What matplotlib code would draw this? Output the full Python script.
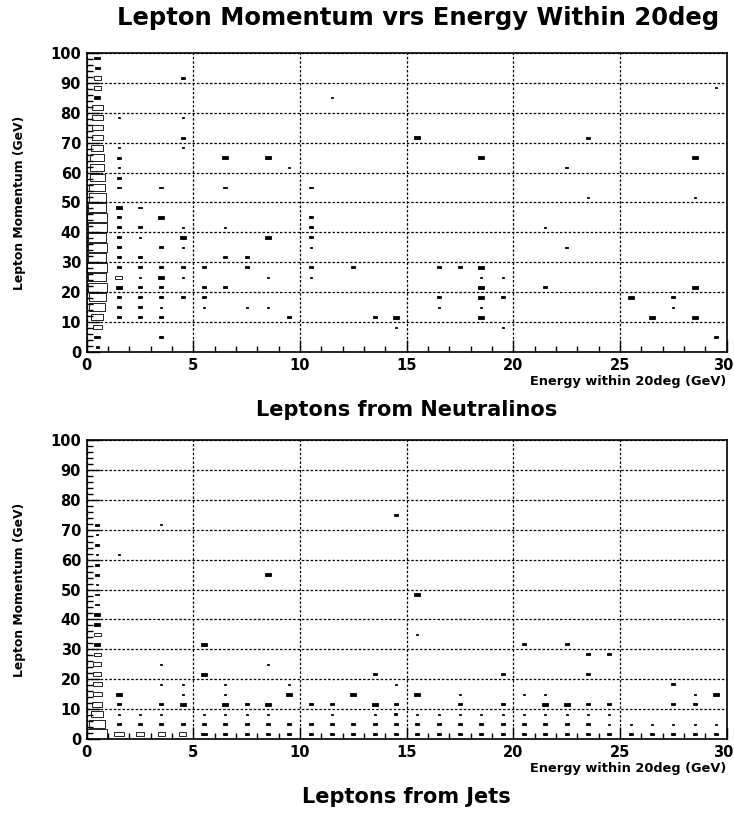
import matplotlib
matplotlib.use("Agg")
import matplotlib.pyplot as plt
from matplotlib.patches import Rectangle
from matplotlib.transforms import ScaledTranslation

plt.rcParams["font.family"] = ["DejaVu Sans"]
plt.rcParams["font.weight"] = "bold"

# 30 x 30 bins over 0-30 GeV (x) and 0-100 GeV (y)
DX = 1.0
DY = 100 / 30
NFULL = 10.5   # content that would fill a whole bin

# ------------------------------------------------------------------
# Leptons from Neutralinos: x bin centre, y bin number, bin content
# ------------------------------------------------------------------
top_x = ([0.5] * 30 + [1.5] * 18 + [2.5] * 10 + [3.5] * 10 + [4.5] * 10
         + [5.5] * 4 + [6.5] * 5 + [7.5] * 3 + [8.5] * 4 + [9.5] * 2
         + [10.5] * 7 + [11.5, 12.5, 13.5] + [14.5] * 2 + [15.5]
         + [16.5] * 3 + [17.5] + [18.5] * 7 + [19.5] * 3 + [21.5] * 2
         + [22.5] * 2 + [23.5] * 2 + [25.5, 26.5] + [27.5] * 2
         + [28.5] * 4 + [29.5] * 2)
top_k = (list(range(30))
         + [23, 20, 19, 18, 17, 16, 14, 13, 12, 11, 10, 9, 8, 7, 6, 5, 4, 3]
         + [14, 12, 11, 9, 8, 7, 6, 5, 4, 3]
         + [16, 13, 10, 8, 7, 6, 5, 4, 3, 1]
         + [27, 23, 21, 20, 12, 11, 10, 8, 7, 5]
         + [8, 6, 5, 4]
         + [19, 16, 12, 9, 6]
         + [9, 8, 4]
         + [19, 11, 7, 4]
         + [18, 3]
         + [16, 13, 12, 11, 10, 8, 7]
         + [25, 8, 3]
         + [3, 2]
         + [21]
         + [8, 5, 4]
         + [8]
         + [19, 8, 7, 6, 5, 4, 3]
         + [7, 5, 2]
         + [12, 6]
         + [18, 10]
         + [21, 15]
         + [5, 3]
         + [5, 4]
         + [19, 15, 6, 3]
         + [26, 1])
top_n = ([1.5, 3, 4.5, 6, 8, 8.5, 9.5, 9, 10, 9, 9.5, 9, 9.5, 10, 9,
          8.5, 8, 7.5, 7, 7, 6, 5.5, 5.5, 5.5, 5.5, 3, 3.5, 3.5, 2.5, 3]
         + [1, 1, 2, 1, 2, 2, 3, 2, 2, 2, 2, 2, 2, 3.5, 3, 2, 2, 2]
         + [2, 2, 1, 2, 2, 1, 2, 2, 2, 2]
         + [2, 3, 2, 2, 3, 2, 2, 1, 2, 2]
         + [2, 1, 2, 1, 1, 3, 1, 2, 1, 2]
         + [2, 2, 2, 1]
         + [3, 2, 1, 2, 2]
         + [2, 2, 1]
         + [3, 3, 1, 1]
         + [1, 2]
         + [2, 2, 2, 2, 1, 2, 1]
         + [1, 2, 2]
         + [3, 1]
         + [3]
         + [2, 2, 1]
         + [2]
         + [3, 3, 1, 3, 3, 1, 3]
         + [1, 2, 1]
         + [1, 2]
         + [1.5, 1.5]
         + [2, 1]
         + [3, 3]
         + [2, 1]
         + [3, 1, 3, 3]
         + [1, 2])

# ------------------------------------------------------------------
# Leptons from Jets
# ------------------------------------------------------------------
bot_x = ([0.5] * 22 + [1.5] * 6 + [2.5] * 3 + [3.5] * 7 + [4.5] * 5
         + [5.5] * 5 + [6.5] * 6 + [7.5] * 4 + [8.5] * 6 + [9.5] * 4
         + [10.5] * 3 + [11.5] * 4 + [12.5] * 3 + [13.5] * 5
         + [14.5] * 6 + [15.5] * 6 + [16.5] * 3 + [17.5] * 5
         + [18.5] * 3 + [19.5] * 5 + [20.5] * 5 + [21.5] * 5
         + [22.5] * 5 + [23.5] * 6 + [24.5] * 5 + [25.5] * 2
         + [26.5] * 2 + [27.5] * 4 + [28.5] * 4 + [29.5] * 3)
bot_k = (list(range(22))
         + [18, 4, 3, 2, 1, 0]
         + [2, 1, 0]
         + [21, 7, 5, 3, 2, 1, 0]
         + [5, 4, 3, 1, 0]
         + [9, 6, 2, 1, 0]
         + [5, 4, 3, 2, 1, 0]
         + [3, 2, 1, 0]
         + [16, 7, 3, 2, 1, 0]
         + [5, 4, 1, 0]
         + [3, 1, 0]
         + [3, 2, 1, 0]
         + [4, 1, 0]
         + [6, 3, 2, 1, 0]
         + [22, 5, 3, 2, 1, 0]
         + [14, 10, 4, 2, 1, 0]
         + [2, 1, 0]
         + [4, 3, 2, 1, 0]
         + [2, 1, 0]
         + [6, 3, 2, 1, 0]
         + [9, 4, 2, 1, 0]
         + [4, 3, 2, 1, 0]
         + [9, 3, 2, 1, 0]
         + [8, 6, 3, 2, 1, 0]
         + [8, 3, 2, 1, 0]
         + [1, 0]
         + [1, 0]
         + [5, 3, 1, 0]
         + [4, 3, 1, 0]
         + [4, 1, 0])
bot_n = ([10, 8, 6, 5, 4.5, 4.5, 4, 4, 3.5, 3, 3.5, 3, 3, 2, 2, 1, 2, 2,
          1, 2, 1, 2]
         + [1, 3, 2, 1, 2, 5]
         + [1, 2, 3.5]
         + [1, 1, 1, 2, 1, 2, 3.5]
         + [1, 1, 3, 2, 3.5]
         + [3, 3, 1, 2, 3]
         + [1, 1, 3, 1, 2, 2]
         + [2, 1, 2, 2]
         + [3, 1, 3, 1, 2, 2]
         + [1, 3, 2, 2]
         + [2, 2, 2]
         + [2, 1, 2, 2]
         + [3, 2, 2]
         + [2, 3, 1, 2, 2]
         + [2, 1, 2, 1.5, 2, 2]
         + [3, 1, 3, 1, 2, 2]
         + [1, 2, 2]
         + [1, 2, 1, 2, 2]
         + [1, 2, 2]
         + [2, 2, 1, 2, 2]
         + [2, 1, 1, 2, 2]
         + [1, 3, 1, 2, 2]
         + [2, 3, 1, 2, 2]
         + [2, 2, 2, 1, 2, 2]
         + [2, 2, 1, 1, 2]
         + [1, 2]
         + [1, 2]
         + [2, 2, 1, 2]
         + [1, 2, 1, 2]
         + [3, 1, 2])

assert len(top_x) == len(top_k) == len(top_n)
assert len(bot_x) == len(bot_k) == len(bot_n)


def draw_boxes(ax, xs, ks, ns):
    for x, k, n in zip(xs, ks, ns):
        f = n / NFULL
        w, h = DX * f, DY * f
        yc = (k + 0.5) * DY
        # small boxes come out as solid dots, like the PAW output
        face = "black" if n <= 3 else "none"
        ax.add_patch(Rectangle((x - w / 2, yc - h / 2), w, h, facecolor=face,
                               edgecolor="black", linewidth=0.6))


def style_axes(ax):
    ax.set_xlim(0, 30)
    ax.set_ylim(0, 100)
    ax.set_xticks(range(0, 31, 5))
    ax.set_yticks(range(0, 101, 10))
    ax.set_xticks(range(0, 31), minor=True)
    ax.set_yticks(range(0, 101, 2), minor=True)
    ax.tick_params(which="both", direction="in", labelsize=10.5, width=1.0)
    ax.tick_params(which="major", length=9, pad=4)
    ax.tick_params(which="minor", length=4.5)
    ax.grid(True, which="major", color="black", linestyle=(0, (2, 1.5)),
            linewidth=0.9)
    ax.set_axisbelow(True)
    for s in ax.spines.values():
        s.set_linewidth(1.2)
    # keep the "30" label inside the page
    last = ax.get_xticklabels()[-1]
    last.set_transform(last.get_transform()
                       + ScaledTranslation(-3 / 100, 0, ax.figure.dpi_scale_trans))


fig = plt.figure(figsize=(7.34, 8.14), dpi=100)
ax1 = fig.add_axes([0.118, 0.5676, 0.872, 0.3673])
ax2 = fig.add_axes([0.118, 0.0921, 0.872, 0.3673])

panels = [
    (ax1, top_x, top_k, top_n, "Leptons from Neutralinos"),
    (ax2, bot_x, bot_k, bot_n, "Leptons from Jets"),
]
for ax, xs, ks, ns, name in panels:
    style_axes(ax)
    draw_boxes(ax, xs, ks, ns)
    ax.text(1.0, -0.1, "Energy within 20deg (GeV)", transform=ax.transAxes,
            ha="right", va="center", fontsize=9.3)
    ax.text(0.5, -0.195, name, transform=ax.transAxes, ha="center",
            va="center", fontsize=15)
    ax.text(-0.105, 0.5, "Lepton Momentum (GeV)", transform=ax.transAxes,
            ha="center", va="center", rotation=90, fontsize=8.9)

fig.text(0.569, 0.978, "Lepton Momentum vrs Energy Within 20deg",
         ha="center", va="center", fontsize=17.5)

fig.savefig("out.png", dpi=100)
